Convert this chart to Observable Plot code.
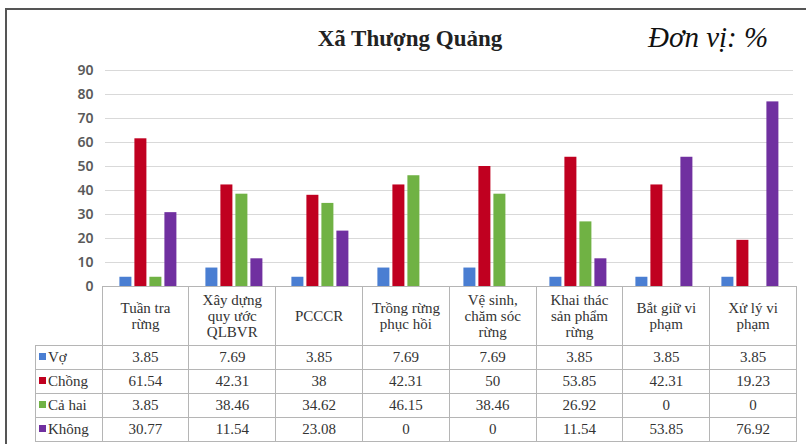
<!DOCTYPE html>
<html>
<head>
<meta charset="utf-8">
<script src="https://cdn.jsdelivr.net/npm/d3@7"></script>
<script src="https://cdn.jsdelivr.net/npm/@observablehq/plot@0.6"></script>
<style>
  html, body { margin: 0; padding: 0; background: #fff; }
  #wrap { position: relative; width: 806px; height: 444px; overflow: hidden; }
  #frame { position: absolute; left: 5px; top: 8px; width: 830px; height: 470px; border: 2px solid #555; box-sizing: border-box; }
  #title { position: absolute; left: 0; width: 820px; top: 26px; text-align: center; font-family: "Liberation Serif", "Times New Roman", serif; font-weight: bold; font-size: 23px; color: #222; }
  #unit { position: absolute; left: 648px; top: 21px; font-family: "Liberation Serif", "Times New Roman", serif; font-style: italic; font-size: 29px; color: #111; }
  #chart { position: absolute; left: 0; top: 0; }
  #tbl { position: absolute; left: 35px; top: 286px; border-collapse: collapse; table-layout: fixed; }
  #tbl td { border: 1px solid #b5b5b5; text-align: center; padding: 0; font-family: "Liberation Serif", "Times New Roman", serif; font-size: 15px; color: #333; }
  #tbl tr.head td { height: 58px; white-space: pre-line; line-height: 16px; vertical-align: middle; }
  #tbl tr.head td.blank { border: none; }
  #tbl tr.row td { height: 23px; }
  #tbl td.leg { text-align: left; padding-left: 3px; white-space: nowrap; }
  .sw { display: inline-block; width: 7px; height: 7px; margin-right: 2px; vertical-align: 2px; }
</style>
</head>
<body>
<div id="wrap">
  <div id="frame"></div>
  <div id="chart"></div>
  <div id="title">Xã Thượng Quảng</div>
  <div id="unit">Đơn vị: %</div>
  <table id="tbl"></table>
</div>
<script>
const categories = ["Tuần tra\nrừng", "Xây dựng\nquy ước\nQLBVR", "PCCCR", "Trồng rừng\nphục hồi", "Vệ sinh,\nchăm sóc\nrừng", "Khai thác\nsản phẩm\nrừng", "Bắt giữ vi\nphạm", "Xử lý vi\nphạm"];
const series = ["Vợ", "Chồng", "Cả hai", "Không"];
const vo    = [3.85, 7.69, 3.85, 7.69, 7.69, 3.85, 3.85, 3.85];
const chong = [61.54, 42.31, 38, 42.31, 50, 53.85, 42.31, 19.23];
const cahai = [3.85, 38.46, 34.62, 46.15, 38.46, 26.92, 0, 0];
const khong = [30.77, 11.54, 23.08, 0, 0, 11.54, 53.85, 76.92];
const yTicks = [0, 10, 20, 30, 40, 50, 60, 70, 80, 90];
const colors = ["#4a7ed2", "#c00020", "#70b244", "#7030a0"];

const values = [vo, chong, cahai, khong];
const data = [];
categories.forEach((c, i) => series.forEach((s, j) => data.push({cat: c, series: s, value: values[j][i]})));

const W = 806, left = 101.6, right = 796;
const chart = Plot.plot({
  width: W,
  height: 290,
  marginLeft: left,
  marginRight: W - right,
  marginTop: 70,
  marginBottom: 4,
  facet: {data, x: "cat", marginBottom: 4},
  fx: {domain: categories, padding: 0, axis: null, label: null},
  x: {domain: series, paddingInner: 0.2, paddingOuter: 0.86, axis: null},
  y: {domain: [0, 90], label: null},
  color: {domain: series, range: colors},
  style: {background: "transparent", overflow: "visible"},
  marks: [
    Plot.gridY(yTicks, {stroke: "#d9d9d9", strokeOpacity: 1, strokeWidth: 1}),
    Plot.axisY({ticks: yTicks, tickSize: 0, tickPadding: 0, dx: -12, label: null, fontSize: 14, fontWeight: 600, fill: "#5a5a5a", fontFamily: "Noto Sans, sans-serif"}),
    Plot.barY(data, {x: "series", y: "value", fill: "series"})
  ]
});
document.getElementById("chart").appendChild(chart);

// table
const tbl = document.getElementById("tbl");
const legW = left - 35, colW = (right - left) / categories.length;
const cg = document.createElement("colgroup");
[legW, ...categories.map(() => colW)].forEach(w => { const c = document.createElement("col"); c.style.width = w + "px"; cg.appendChild(c); });
tbl.appendChild(cg);
const head = document.createElement("tr"); head.className = "head";
const blank = document.createElement("td"); blank.className = "blank"; head.appendChild(blank);
categories.forEach(c => { const td = document.createElement("td"); td.textContent = c; head.appendChild(td); });
tbl.appendChild(head);
series.forEach((s, j) => {
  const tr = document.createElement("tr"); tr.className = "row";
  const td0 = document.createElement("td"); td0.className = "leg";
  const sw = document.createElement("span"); sw.className = "sw"; sw.style.background = colors[j];
  td0.appendChild(sw); td0.appendChild(document.createTextNode(s));
  tr.appendChild(td0);
  values[j].forEach(v => { const td = document.createElement("td"); td.textContent = String(v); tr.appendChild(td); });
  tbl.appendChild(tr);
});
</script>
</body>
</html>
